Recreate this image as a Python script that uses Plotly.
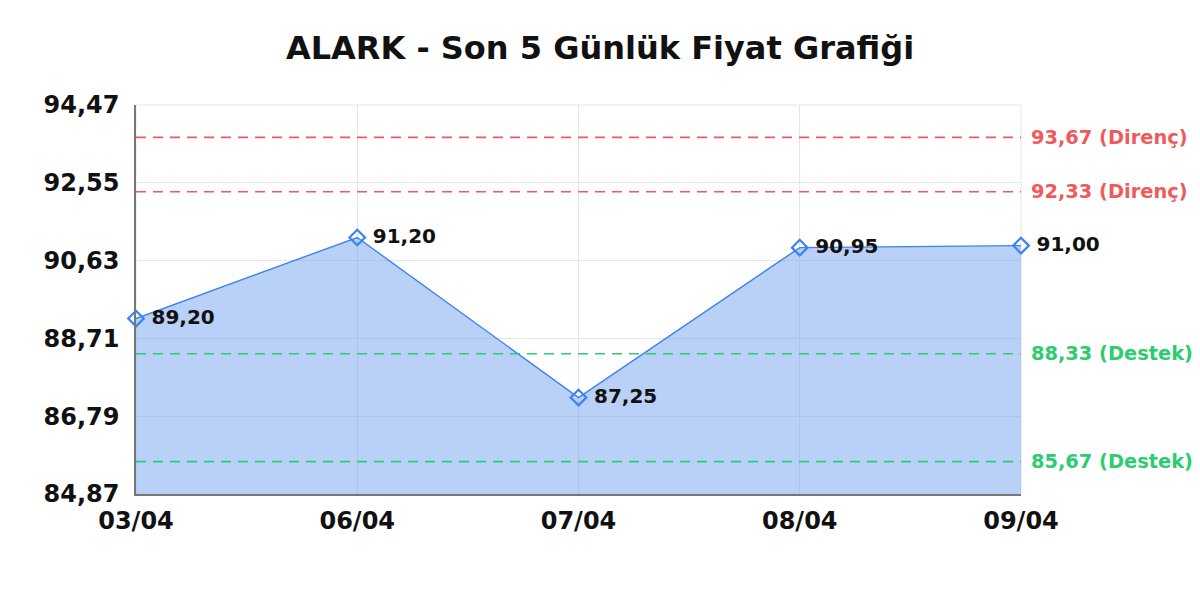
import plotly.graph_objects as go

dates = ["03/04", "06/04", "07/04", "08/04", "09/04"]
prices = [89.20, 91.20, 87.25, 90.95, 91.00]
price_labels = ["89,20", "91,20", "87,25", "90,95", "91,00"]
y_ticks = [84.87, 86.79, 88.71, 90.63, 92.55, 94.47]
y_tick_labels = ["84,87", "86,79", "88,71", "90,63", "92,55", "94,47"]
resistance = [93.67, 92.33]
resistance_labels = ["93,67 (Direnç)", "92,33 (Direnç)"]
support = [88.33, 85.67]
support_labels = ["88,33 (Destek)", "85,67 (Destek)"]

FONT = "DejaVu Sans"
RED = "#f05a5a"
GREEN = "#2ecc71"
BLUE = "#3b82f6"

fig = go.Figure()
fig.add_trace(go.Scatter(
    x=dates, y=prices, mode="lines+markers+text",
    fill="tozeroy", fillcolor="rgba(120,165,240,0.52)",
    line=dict(color=BLUE, width=1.4),
    marker=dict(symbol="diamond-open", size=12, color=BLUE, line=dict(width=2.2, color=BLUE)),
    text=[" " + t for t in price_labels], textposition="middle right",
    textfont=dict(family=FONT, size=20, color="#111111", weight="bold"),
    cliponaxis=False, showlegend=False, hoverinfo="skip",
))

for v, lab in zip(resistance, resistance_labels):
    fig.add_shape(type="line", xref="paper", x0=0, x1=1, yref="y", y0=v, y1=v,
                  line=dict(color=RED, width=1.6, dash="10px,7px"), layer="above")
    fig.add_annotation(xref="paper", x=1.0, y=v, text=lab, showarrow=False,
                       xanchor="left", xshift=8,
                       font=dict(family=FONT, size=19.4, color=RED, weight="bold"))
for v, lab in zip(support, support_labels):
    fig.add_shape(type="line", xref="paper", x0=0, x1=1, yref="y", y0=v, y1=v,
                  line=dict(color=GREEN, width=1.6, dash="10px,7px"), layer="above")
    fig.add_annotation(xref="paper", x=1.0, y=v, text=lab, showarrow=False,
                       xanchor="left", xshift=8,
                       font=dict(family=FONT, size=19.4, color=GREEN, weight="bold"))

fig.update_layout(
    width=1200, height=600,
    margin=dict(l=128, r=187, t=97, b=114),
    paper_bgcolor="white", plot_bgcolor="white",
    title=dict(text="ALARK - Son 5 Günlük Fiyat Grafiği", xref="container",
               x=592 / 1200, xanchor="center",
               y=1 - 40 / 600, yanchor="middle",
               font=dict(family=FONT, size=32, color="#111111", weight="bold")),
    xaxis=dict(type="category", range=[0, 4], showgrid=True, gridcolor="#e6e6e6",
               showline=True, linecolor="#777777", linewidth=1.5, mirror=False,
               ticks="", ticklabelstandoff=4,
               tickfont=dict(family=FONT, size=24, color="#111111", weight="bold"),
               zeroline=False),
    yaxis=dict(range=[y_ticks[0], y_ticks[-1]], tickvals=y_ticks, ticktext=y_tick_labels,
               showgrid=True, gridcolor="#e6e6e6", showline=True, linecolor="#777777",
               linewidth=1.5, ticks="", ticklabelstandoff=10,
               tickfont=dict(family=FONT, size=24, color="#111111", weight="bold"),
               zeroline=False),
)
fig.add_shape(type="rect", xref="paper", yref="paper", x0=0, x1=1, y0=0, y1=1,
              line=dict(color="#e6e6e6", width=1), layer="below")

fig.write_html("out.html")
